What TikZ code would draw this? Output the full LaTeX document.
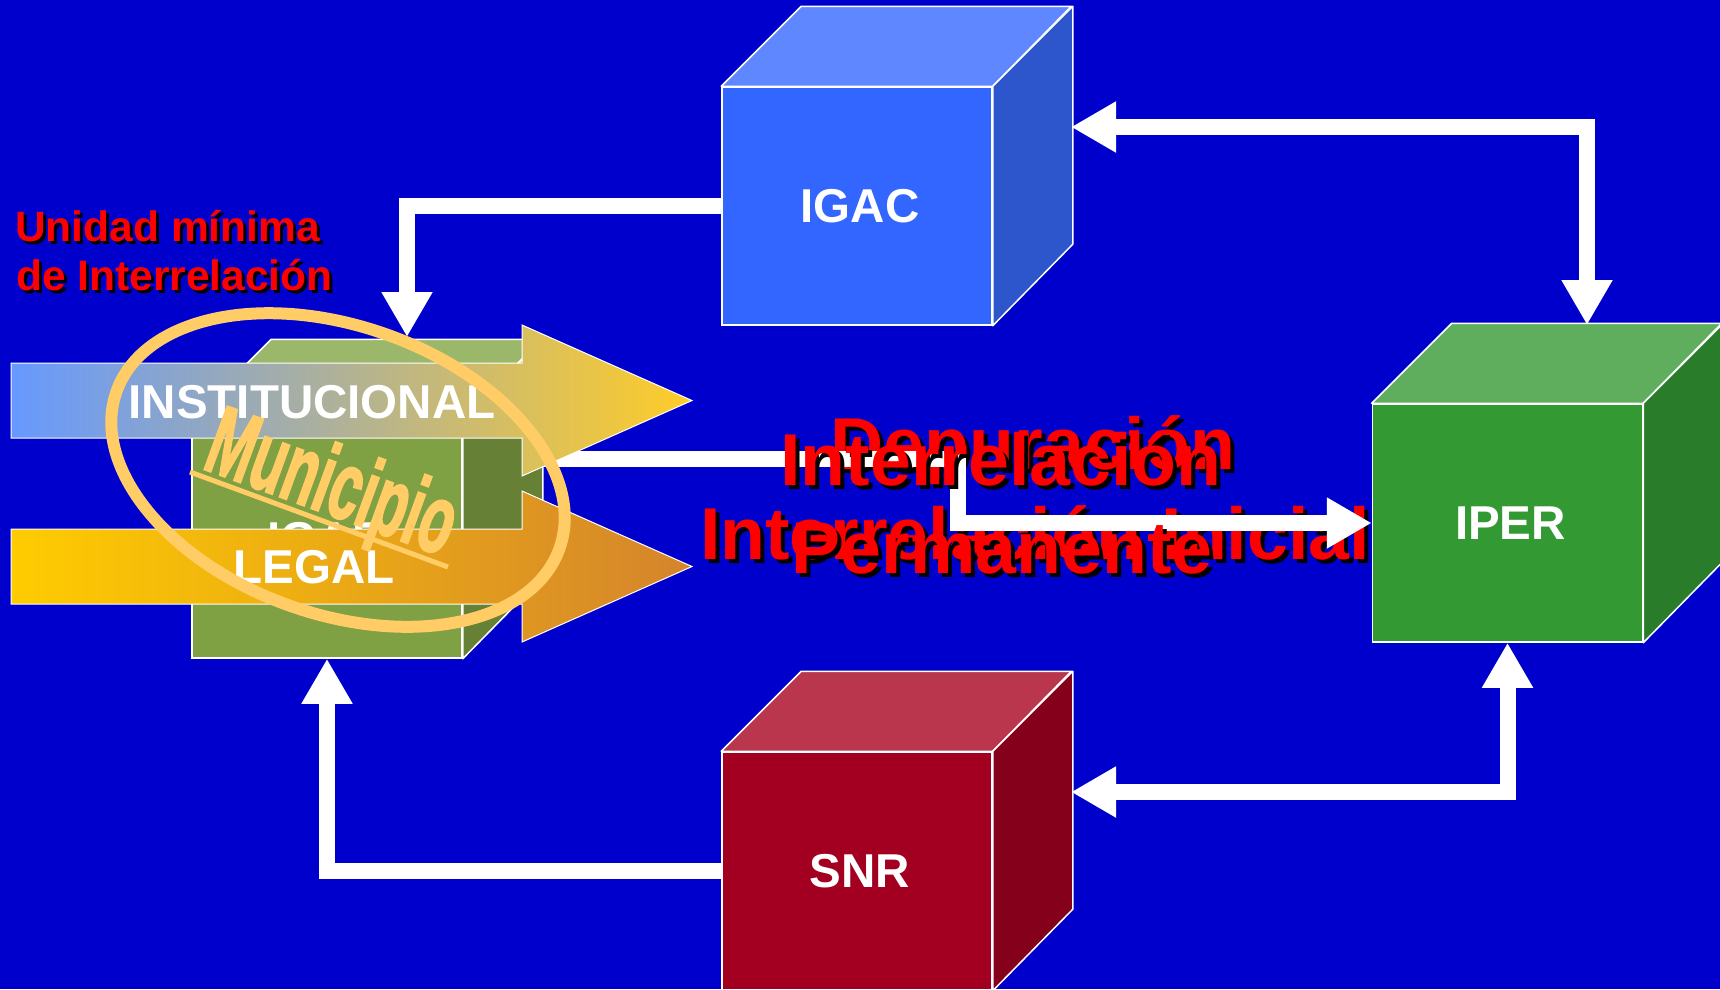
\documentclass[tikz,border=0pt]{standalone}
\usepackage{fontspec}
\usepackage{graphicx}
\setmainfont{Liberation Sans}
\newfontface\munifont[FakeBold=2.5]{Liberation Sans Bold}
\usetikzlibrary{arrows.meta}
\definecolor{bgblue}{RGB}{0,0,204}
\definecolor{igacF}{RGB}{51,102,255}
\definecolor{igacT}{RGB}{95,135,255}
\definecolor{igacS}{RGB}{46,86,204}
\definecolor{iperF}{RGB}{51,153,51}
\definecolor{iperT}{RGB}{94,174,94}
\definecolor{iperS}{RGB}{41,124,41}
\definecolor{snrF}{RGB}{163,0,33}
\definecolor{snrT}{RGB}{185,54,77}
\definecolor{snrS}{RGB}{133,0,26}
\definecolor{igarF}{RGB}{128,160,68}
\definecolor{igarT}{RGB}{155,184,106}
\definecolor{igarS}{RGB}{102,128,54}
\definecolor{instL}{RGB}{102,153,255}
\definecolor{instR}{RGB}{255,204,40}
\definecolor{legL}{RGB}{255,204,0}
\definecolor{legR}{RGB}{212,132,44}
\definecolor{ringc}{RGB}{255,204,102}
\definecolor{txtred}{RGB}{255,0,0}
\newcommand\shtext[6]{%
  \node[#5, text=black] (#1s) at ({#2+#4},{#3+#4}) {#6};
  \node[#5, text=txtred] (#1) at (#2,#3) {#6};}
\begin{document}
\begin{tikzpicture}[x=1pt,y=-1pt,
  >={Triangle[width=48pt,length=45pt]},
  conn/.style={draw=white, line width=16pt, line join=miter},
  cubefront/.style={draw=white, line width=1.5pt, minimum width=270pt, minimum height=238pt, inner sep=0pt, text=white, font=\fontsize{47.5}{56}\selectfont\bfseries},
  cubeedge/.style={draw=white, line width=1.5pt, line join=round},
  bartxt/.style={inner sep=0pt, text=white, font=\fontsize{47.5}{56}\selectfont\bfseries},
  bigtxt/.style={anchor=base, inner sep=0pt, font=\fontsize{73.5}{80}\selectfont\bfseries},
  smalltxt/.style={anchor=base west, inner sep=0pt, font=\fontsize{42.5}{50}\selectfont\bfseries},
  barshape/.style={draw=white, line width=1pt, line join=miter},
  muni/.style={inner sep=0pt, text=ringc, font=\munifont\fontsize{97}{97}\selectfont}
]
\useasboundingbox (0,0) rectangle (1720,989);
\fill[bgblue] (0,0) rectangle (1720,989);

% cubes
\node[cubefront, fill=igacF] (igac) at (857,206) {\hspace*{6pt}IGAC};
\filldraw[cubeedge, fill=igacT] (igac.north west) -- ++(80,-80) -- ++(270,0) -- (igac.north east) -- cycle;
\filldraw[cubeedge, fill=igacS] (igac.north east) -- ++(80,-80) -- ++(0,238) -- (igac.south east) -- cycle;

\node[cubefront, fill=iperF] (iper) at (1507.5,523) {\hspace*{6pt}IPER};
\filldraw[cubeedge, fill=iperT] (iper.north west) -- ++(80,-80) -- ++(270,0) -- (iper.north east) -- cycle;
\filldraw[cubeedge, fill=iperS] (iper.north east) -- ++(80,-80) -- ++(0,238) -- (iper.south east) -- cycle;

\node[cubefront, fill=snrF] (snr) at (857,871) {\hspace*{6pt}SNR};
\filldraw[cubeedge, fill=snrT] (snr.north west) -- ++(80,-80) -- ++(270,0) -- (snr.north east) -- cycle;
\filldraw[cubeedge, fill=snrS] (snr.north east) -- ++(80,-80) -- ++(0,238) -- (snr.south east) -- cycle;

\node[cubefront, fill=igarF] (igar) at (327,539) {IGAR};
\filldraw[cubeedge, fill=igarT] (igar.north west) -- ++(80,-80) -- ++(270,0) -- (igar.north east) -- cycle;
\filldraw[cubeedge, fill=igarS] (igar.north east) -- ++(80,-80) -- ++(0,238) -- (igar.south east) -- cycle;

% connector end points on the cube faces
\coordinate (igarTop) at (407,337);
\coordinate (igacR) at (1071,127);
\coordinate (iperTop) at (1587,325);
\coordinate (snrR) at (1071,792);
\coordinate (igarR) at (542,459);

% connectors
\draw[conn, ->] (igac.west) -| (igarTop);
\draw[conn, <->] (igacR) -| (iperTop);
\draw[conn, <->] (snrR) -| (iper.south);
\draw[conn, ->] (snr.west) -| (igar.south);

% big overlapping labels (lower layer)
\shtext{dep}{1033}{469}{4}{bigtxt}{Depuración}
\shtext{inti}{1035}{559}{4}{bigtxt}{Interrelación Inicial}

% middle connector
\draw[conn, ->] (igarR) -- ++(416,0) |- (iper.west);

% big overlapping labels (upper layer)
\shtext{intr}{1001}{485}{4}{bigtxt}{Interrelación}
\shtext{perm}{1002}{573}{4}{bigtxt}{Permanente}

% side label
\shtext{unid}{15}{241}{3}{smalltxt}{Unidad mínima}
\shtext{inter}{16}{290}{3}{smalltxt}{de Interrelación}

% block arrows
\shadedraw[barshape, left color=instL, right color=instR]
  (11,363) -- (522,363) -- (522,325) -- (692,400.5) -- (522,476) -- (522,438) -- (11,438) -- cycle;
\node[bartxt] (inst) at (312,402) {INSTITUCIONAL};
\shadedraw[barshape, left color=legL, right color=legR]
  (11,529) -- (522,529) -- (522,491) -- (692,566.5) -- (522,642) -- (522,604) -- (11,604) -- cycle;
\node[bartxt] (legal) at (314,567.5) {LEGAL};

% ring and Municipio
\draw[ringc, line width=12pt, rotate around={-19.5:(338,470)}] (338,470) ellipse [x radius=235, y radius=144];
\node[muni, rotate=-20, anchor=base] (municipio) at (322,512) {\scalebox{0.57}[1]{Municipio}};
\draw[ringc, line width=5pt] (190,472) -- (448,567);
\end{tikzpicture}
\end{document}
